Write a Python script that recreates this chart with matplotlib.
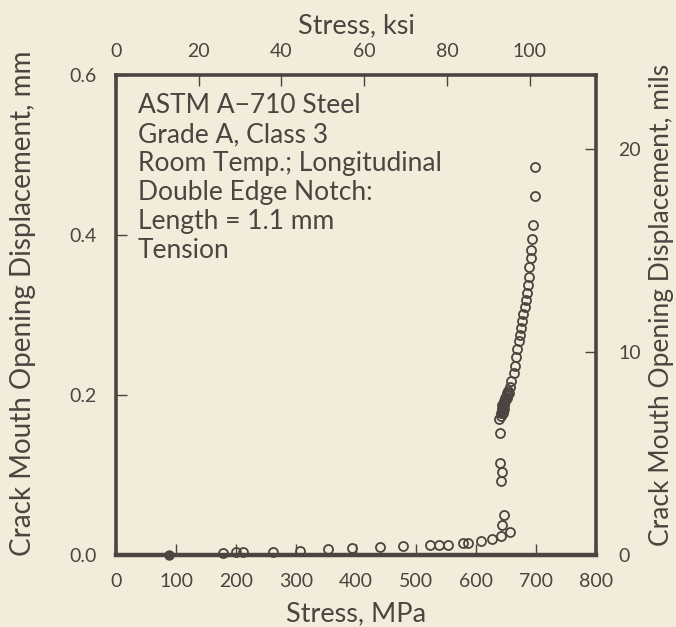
import matplotlib
matplotlib.use("Agg")
import matplotlib.pyplot as plt
import numpy as np

plt.rcParams['font.family'] = ['Lato', 'DejaVu Sans']

# Data: stress (MPa) vs crack mouth opening displacement (mm)
stress_mpa = [178, 200, 212, 262, 307, 354, 393, 440, 478, 523, 538, 554, 579, 587,
              608, 627, 642, 656, 643, 646, 642, 644, 640.5, 640.5, 639,
              641, 642, 643, 644, 645, 646, 647, 646, 648, 649, 650, 651, 652, 653,
              644, 647, 649, 651, 645, 655,
              657, 659, 663, 665, 667, 669, 671, 673, 675, 677, 679, 681, 683, 685,
              686, 688, 689, 691, 692, 693, 695, 699, 699]
cmod_mm = [0.003, 0.004, 0.004, 0.004, 0.005, 0.007, 0.009, 0.010, 0.011, 0.0125, 0.0125, 0.0125, 0.0155, 0.0155,
           0.018, 0.020, 0.024, 0.029, 0.038, 0.050, 0.092, 0.104, 0.115, 0.153, 0.170,
           0.174, 0.177, 0.180, 0.182, 0.185, 0.187, 0.190, 0.192, 0.194, 0.196, 0.198, 0.200, 0.203, 0.205,
           0.188, 0.183, 0.192, 0.196, 0.178, 0.202,
           0.210, 0.218, 0.227, 0.236, 0.247, 0.257, 0.267, 0.275, 0.284, 0.293, 0.301, 0.310, 0.319, 0.328,
           0.338, 0.348, 0.360, 0.371, 0.381, 0.395, 0.413, 0.449, 0.485]
filled_stress = [88]
filled_cmod = [0.0]

x_ticks = [0, 100, 200, 300, 400, 500, 600, 700, 800]
y_ticks = [0.0, 0.2, 0.4, 0.6]
ksi_ticks = [0, 20, 40, 60, 80, 100]
mil_ticks = [0, 10, 20]
annotation = ["ASTM A\u2212710 Steel", "Grade A, Class 3", "Room Temp.; Longitudinal",
              "Double Edge Notch:", "Length = 1.1 mm", "Tension"]

BG = '#f3ecda'
INK = '#4a4540'
TICK_FS = 14
LABEL_FS = 19.5

fig = plt.figure(figsize=(6.76, 6.27), dpi=100, facecolor=BG)
ax = fig.add_axes([0.1716, 0.1148, 0.7101, 0.7656], facecolor=BG)

ax.plot(stress_mpa, cmod_mm, linestyle='none', marker='o', markersize=6.5,
        markerfacecolor='none', markeredgecolor=INK, markeredgewidth=1.3, clip_on=False)
ax.plot(filled_stress, filled_cmod, linestyle='none', marker='o', markersize=6.5,
        markerfacecolor=INK, markeredgecolor=INK, clip_on=False, zorder=5)

ax.set_xlim(0, 800)
ax.set_ylim(0, 0.6)
ax.set_xticks(x_ticks)
ax.set_xticklabels([str(v) for v in x_ticks])
ax.set_yticks(y_ticks)
ax.set_yticklabels([f"{v:.1f}" for v in y_ticks])

for s in ax.spines.values():
    s.set_color(INK)
    s.set_linewidth(2.6)
ax.spines['bottom'].set_linewidth(3.2)

ax.tick_params(axis='x', direction='in', length=8, width=1, color=INK, labelcolor=INK,
               labelsize=TICK_FS, pad=13)
ax.tick_params(axis='y', direction='in', length=8, width=1, color=INK, labelcolor=INK,
               labelsize=TICK_FS, pad=14)

ax.set_xlabel("Stress, MPa", fontsize=LABEL_FS, color=INK, labelpad=8)
ax.set_ylabel("Crack Mouth Opening Displacement, mm", fontsize=20, color=INK)
ax.yaxis.set_label_coords(-0.167, 0.525, transform=ax.transAxes)

MPA_PER_KSI = 6.894757
sec_x = ax.secondary_xaxis('top', functions=(lambda m: m / MPA_PER_KSI, lambda k: k * MPA_PER_KSI))
sec_x.set_xticks(ksi_ticks)
sec_x.set_xticklabels([str(v) for v in ksi_ticks])
sec_x.tick_params(direction='in', length=8, width=1, color=INK, labelcolor=INK,
                  labelsize=TICK_FS, pad=11)
sec_x.spines['top'].set_visible(False)
sec_x.set_xlabel("Stress, ksi", fontsize=LABEL_FS, color=INK, labelpad=7)

MM_PER_MIL = 0.0254
sec_y = ax.secondary_yaxis('right', functions=(lambda m: m / MM_PER_MIL, lambda mil: mil * MM_PER_MIL))
sec_y.set_yticks(mil_ticks)
sec_y.set_yticklabels([str(v) for v in mil_ticks])
sec_y.tick_params(direction='in', length=8, width=1, color=INK, labelcolor=INK,
                  labelsize=TICK_FS, pad=16)
sec_y.spines['right'].set_visible(False)
sec_y.set_ylabel("Crack Mouth Opening Displacement, mils", fontsize=19, color=INK)
sec_y.yaxis.set_label_coords(1.11, 0.522, transform=ax.transAxes)

ax.text(0.046, 0.962, "\n".join(annotation), transform=ax.transAxes, ha='left', va='top',
        fontsize=19, color=INK, linespacing=1.2)

fig.savefig("out.png", dpi=100, facecolor=BG)
